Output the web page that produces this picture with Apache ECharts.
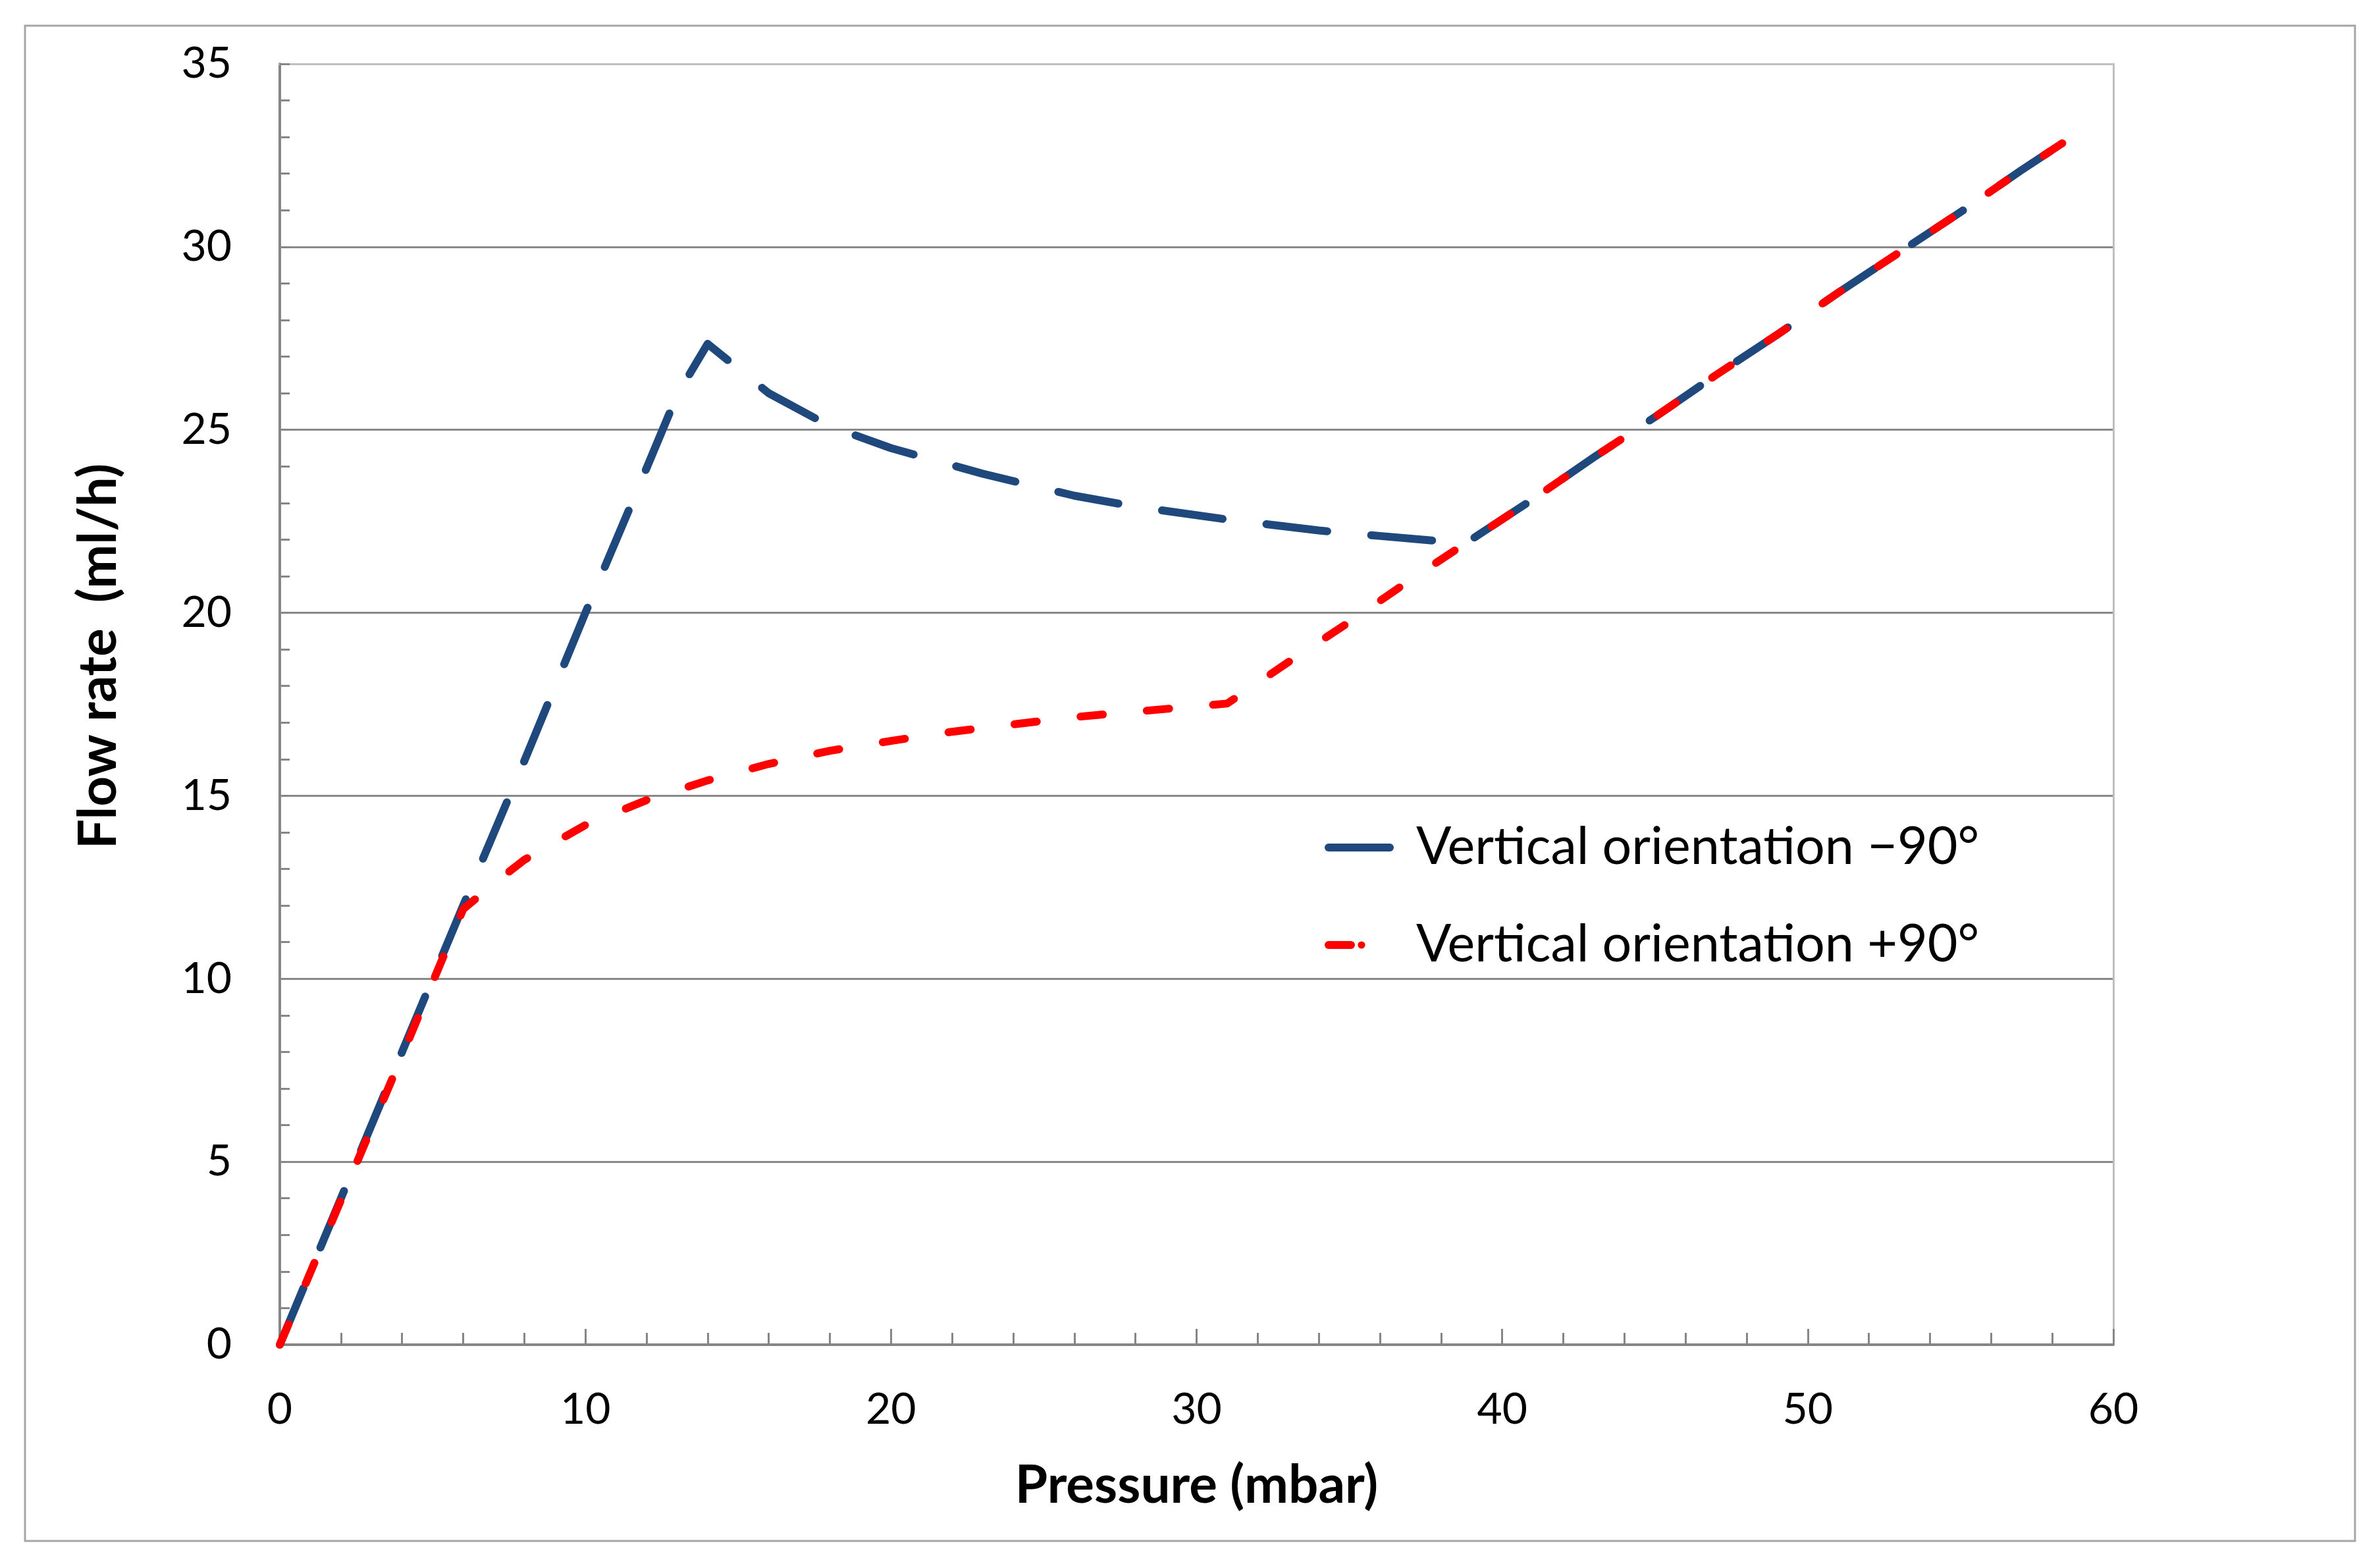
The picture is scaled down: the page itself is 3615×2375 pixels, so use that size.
<!DOCTYPE html>
<html>
<head>
<meta charset="utf-8">
<script src="https://cdn.jsdelivr.net/npm/echarts@6/dist/echarts.min.js"></script>
<style>
html,body{margin:0;padding:0;background:#fff;}
#chart{width:3615px;height:2375px;}
</style>
</head>
<body>
<div id="chart"></div>
<script>
// Pressure (mbar) and flow rate (ml/h)
const bluePressure = [0, 2, 4, 6, 8, 10, 12, 13, 14, 16, 18, 20, 23, 26, 28, 31, 34, 36, 38.8, 41, 43, 45, 47, 49, 51, 53, 55, 57, 59];
const blueFlow     = [0, 4, 8, 12, 15.95, 20, 23.95, 25.95, 27.35, 26.0, 25.1, 24.5, 23.8, 23.2, 22.9, 22.55, 22.25, 22.1, 21.9, 23.1, 24.25, 25.35, 26.5, 27.6, 28.75, 29.85, 30.95, 32.1, 33.2];
const redPressure  = [0, 2, 4, 6, 7, 8, 10, 12, 14, 16, 18, 20, 22, 24, 26, 28, 31, 33, 35, 37, 38.8, 41, 43, 45, 47, 49, 51, 53, 55, 57, 59];
const redFlow      = [0, 3.95, 7.9, 11.9, 12.6, 13.25, 14.2, 14.88, 15.42, 15.87, 16.23, 16.5, 16.75, 16.95, 17.15, 17.3, 17.52, 18.65, 19.75, 20.9, 21.9, 23.1, 24.25, 25.35, 26.5, 27.6, 28.75, 29.85, 30.95, 32.1, 33.2];
const seriesNames  = ['Vertical orientation \u221290\u00B0', 'Vertical orientation +90\u00B0'];
const xTicks = [0, 10, 20, 30, 40, 50, 60];
const yTicks = [0, 5, 10, 15, 20, 25, 30, 35];

const FONT = 'Lato, "Open Sans", "Noto Sans", sans-serif';
const AXIS_COLOR = '#868686';
const GRID_COLOR = '#898989';
const BORDER_LIGHT = '#bfbfbf';

function pairs(xs, ys) { return xs.map((x, i) => [x, ys[i]]); }

const chart = echarts.init(document.getElementById('chart'), null, {renderer: 'canvas', devicePixelRatio: 1});

const option = {
  backgroundColor: '#ffffff',
  animation: false,
  graphic: [{
    type: 'rect', z: -10, silent: true,
    shape: {x: 38, y: 39, width: 3539, height: 2301},
    style: {fill: 'none', stroke: '#a6a6a6', lineWidth: 3}
  }],
  grid: {left: 425, right: 405, top: 97, bottom: 333, containLabel: false},
  legend: {
    orient: 'vertical',
    left: 2012,
    top: 1242,
    padding: 0,
    itemWidth: 100,
    itemHeight: 14,
    itemGap: 58,
    data: seriesNames,
    lineStyle: {width: 12},
    textStyle: {fontFamily: FONT, fontSize: 79, color: '#000', lineHeight: 90, padding: [0, 0, 0, 28]}
  },
  xAxis: [{
    type: 'value',
    min: xTicks[0], max: xTicks[xTicks.length - 1], interval: 10,
    axisLine: {show: true, onZero: false, lineStyle: {color: AXIS_COLOR, width: 4}},
    axisTick: {show: true, inside: true, length: 24, lineStyle: {color: AXIS_COLOR, width: 3}},
    minorTick: {show: true, splitNumber: 5, length: 18, lineStyle: {color: AXIS_COLOR, width: 3}},
    splitLine: {show: false},
    axisLabel: {fontFamily: FONT, fontSize: 66, color: '#000', margin: 66, lineHeight: 66},
    name: 'Pressure (mbar)',
    nameLocation: 'middle',
    nameGap: 174,
    nameTextStyle: {fontFamily: FONT, fontSize: 80, fontWeight: 'bold', color: '#000', lineHeight: 80}
  }, {
    type: 'value', position: 'top',
    min: xTicks[0], max: xTicks[xTicks.length - 1], interval: 10,
    axisLine: {show: true, onZero: false, lineStyle: {color: BORDER_LIGHT, width: 3}},
    axisTick: {show: false}, axisLabel: {show: false}, splitLine: {show: false}
  }],
  yAxis: [{
    type: 'value',
    min: yTicks[0], max: yTicks[yTicks.length - 1], interval: 5,
    axisLine: {show: true, onZero: false, lineStyle: {color: AXIS_COLOR, width: 4}},
    axisTick: {show: true, inside: true, length: 15, lineStyle: {color: AXIS_COLOR, width: 3}},
    minorTick: {show: true, splitNumber: 5, length: 15, lineStyle: {color: AXIS_COLOR, width: 3}},
    splitLine: {show: true, showMinLine: false, showMaxLine: false, lineStyle: {color: GRID_COLOR, width: 3}},
    axisLabel: {fontFamily: FONT, fontSize: 66, color: '#000', margin: 73},
    name: 'Flow rate  (ml/h)',
    nameLocation: 'middle',
    nameGap: 235,
    nameRotate: 90,
    nameTextStyle: {fontFamily: FONT, fontSize: 80, fontWeight: 'bold', color: '#000', lineHeight: 80, padding: [0, 0, 0, 146]}
  }, {
    type: 'value', position: 'right',
    min: yTicks[0], max: yTicks[yTicks.length - 1], interval: 5,
    axisLine: {show: true, onZero: false, lineStyle: {color: BORDER_LIGHT, width: 3}},
    axisTick: {show: false}, axisLabel: {show: false}, splitLine: {show: false}
  }],
  series: [{
    name: seriesNames[0],
    type: 'line',
    data: pairs(bluePressure, blueFlow),
    symbol: 'none',
    showSymbol: false,
    lineStyle: {color: '#1f497d', width: 12, type: [93, 67], cap: 'round', join: 'round'},
    itemStyle: {color: '#1f497d'},
    z: 3
  }, {
    name: seriesNames[1],
    type: 'line',
    data: pairs(redPressure, redFlow),
    symbol: 'none',
    showSymbol: false,
    lineStyle: {color: '#ff0000', width: 12, type: [34, 67], cap: 'round', join: 'round'},
    itemStyle: {color: '#ff0000'},
    z: 4
  }]
};
chart.setOption(option);
</script>
</body>
</html>
